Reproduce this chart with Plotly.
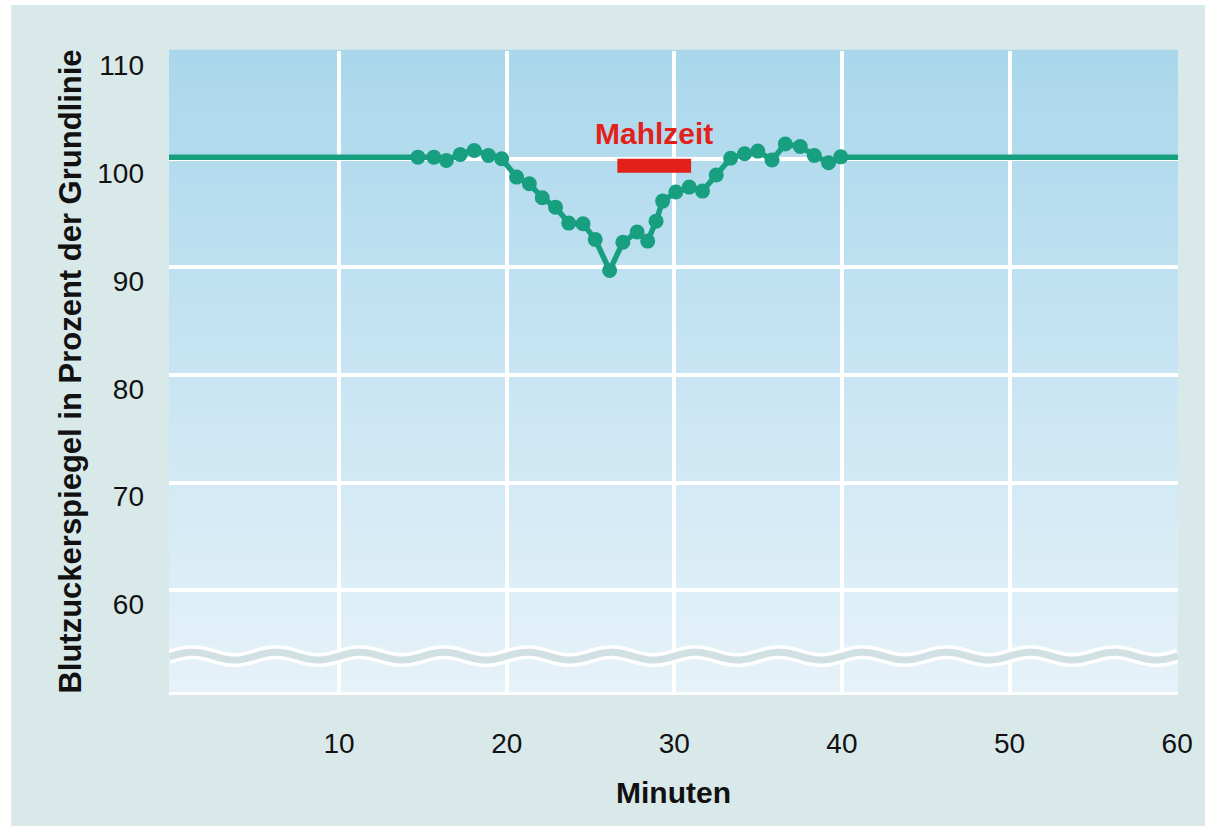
import numpy as np
import plotly.graph_objects as go

# ---------------- data ----------------
minutes = [14.70, 15.65, 16.40, 17.23, 18.06, 18.91, 19.70, 20.59, 21.35, 22.12,
           22.91, 23.70, 24.55, 25.28, 26.14, 26.93, 27.78, 28.41, 28.91, 29.30,
           30.09, 30.89, 31.68, 32.50, 33.36, 34.19, 34.98, 35.83, 36.62, 37.51,
           38.35, 39.20, 39.93]
glucose = [100.2, 100.2, 99.9, 100.45, 100.82, 100.36, 100.05, 98.35, 97.73, 96.43,
           95.56, 94.08, 94.02, 92.57, 89.69, 92.30, 93.25, 92.41, 94.26, 96.12,
           96.96, 97.42, 97.05, 98.55, 100.10, 100.51, 100.76, 99.93, 101.42, 101.19,
           100.36, 99.68, 100.23]
baseline = 100.2
x_ticks = [10, 20, 30, 40, 50, 60]
y_ticks = [60, 70, 80, 90, 100, 110]
meal_start, meal_end = 26.6, 31.0
meal_label = "Mahlzeit"
x_title = "Minuten"
y_title = "Blutzuckerspiegel in Prozent der Grundlinie"

# ---------------- style ----------------
X_MIN, X_MAX = -0.15, 60.05
Y_MIN, Y_MAX = 50.57, 110.05
GREEN = "#179f80"
RED = "#e3201a"
PANEL = "#d9e8e9"
FONT = "Liberation Sans, Arial, sans-serif"
W, H = 1205, 829
L, R, T, B = 169, 19, 51, 137

fig = go.Figure()

# baseline segments before and after the measured series
fig.add_trace(go.Scatter(x=[X_MIN, minutes[0]], y=[baseline, baseline], mode="lines",
                         line=dict(color=GREEN, width=5.5), hoverinfo="skip", showlegend=False))
fig.add_trace(go.Scatter(x=[minutes[-1], X_MAX], y=[baseline, baseline], mode="lines",
                         line=dict(color=GREEN, width=5.5), hoverinfo="skip", showlegend=False))
fig.add_trace(go.Scatter(x=minutes, y=glucose, mode="lines+markers",
                         line=dict(color=GREEN, width=5.5),
                         marker=dict(color=GREEN, size=15), showlegend=False))

shapes = []
# outer panel
pw, ph = W - L - R, H - T - B
shapes.append(dict(type="rect", xref="paper", yref="paper", layer="below",
                   x0=(10 - L) / pw, x1=(W + 10 - L) / pw,
                   y0=(H - B - 826) / ph, y1=(H - B - 5) / ph,
                   fillcolor=PANEL, line=dict(width=0)))
# gradient plot background
n = 80
top = np.array([170, 215, 236])
bot = np.array([230, 242, 249])
for i in range(n):
    t = i / (n - 1)
    c = bot + (top - bot) * t
    shapes.append(dict(type="rect", xref="paper", yref="paper", layer="below",
                       x0=0, x1=1, y0=i / n, y1=(i + 1) / n + 0.002,
                       fillcolor="rgb(%d,%d,%d)" % tuple(c.round().astype(int)),
                       line=dict(width=0)))
# meal bar
shapes.append(dict(type="rect", xref="x", yref="y", x0=meal_start, x1=meal_end,
                   y0=98.75, y1=100.05, fillcolor=RED, line=dict(width=0)))
# axis break wave
wx = np.linspace(X_MIN, X_MAX, 300)
wy = 53.9 + 0.36 * np.sin(2 * np.pi * wx / 5.0)
path = "M " + " L ".join("%.3f,%.3f" % (a, b) for a, b in zip(wx, wy))
shapes.append(dict(type="path", xref="x", yref="y", path=path,
                   line=dict(color="white", width=14)))
shapes.append(dict(type="path", xref="x", yref="y", path=path,
                   line=dict(color="#d0e0e3", width=7)))

fig.update_layout(
    width=W, height=H,
    margin=dict(l=L, r=R, t=T, b=B, pad=0),
    paper_bgcolor="white",
    plot_bgcolor="rgba(0,0,0,0)",
    font=dict(family=FONT, color="#111111"),
    shapes=shapes,
    annotations=[dict(x=(meal_start + meal_end) / 2, y=100.65, xref="x", yref="y",
                      text="<b>%s</b>" % meal_label, showarrow=False,
                      yanchor="bottom", font=dict(size=30, color=RED, family=FONT))],
    xaxis=dict(range=[X_MIN, X_MAX], tickvals=x_ticks, ticktext=[str(v) for v in x_ticks],
               showgrid=True, gridcolor="white", gridwidth=3.5,
               zeroline=False, showline=True, linecolor="white", linewidth=3,
               ticks="", ticklabelstandoff=24, tickfont=dict(size=28, family=FONT),
               title=dict(text="<b>%s</b>" % x_title, standoff=25,
                          font=dict(size=30, family=FONT))),
    yaxis=dict(range=[Y_MIN, Y_MAX], tickvals=y_ticks, ticktext=[str(v) for v in y_ticks],
               showgrid=True, gridcolor="white", gridwidth=3.5,
               zeroline=False, showline=False,
               ticks="", ticklabelstandoff=24, ticklabelshift=14,
               tickfont=dict(size=28, family=FONT),
               title=dict(text="<b>%s</b>" % y_title, standoff=6,
                          font=dict(size=31, family=FONT))),
)

fig.write_html(
    "out.html",
    config={"displayModeBar": False},
    post_script="document.documentElement.style.overflow='hidden';"
                "document.body.style.overflow='hidden';"
                "document.body.style.margin='0';",
)
